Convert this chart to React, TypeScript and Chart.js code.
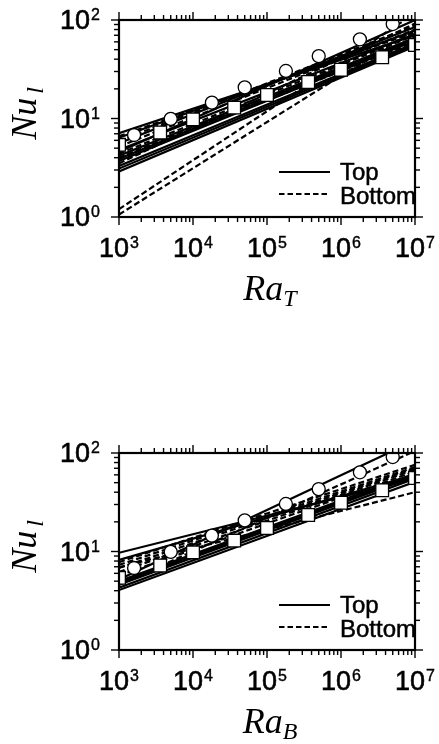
import React, { useEffect, useRef } from 'react';
import { Chart, registerables } from 'chart.js';
Chart.register(...registerables);

// ---- axes / ticks ----
const xDecades = [3, 4, 5, 6, 7];
const yDecades = [0, 1, 2];
const xRange = [1e3, 1e7];
const yRange = [1, 100];
const fitRa = [1e3, 1e7];
const legendLabels = ['Top', 'Bottom'];

// ---- symbols (same in both panels) ----
const circleRa = [1.6e3, 5e3, 1.8e4, 5e4, 1.8e5, 5e5, 1.8e6, 5e6];
const circleNu = [6.8, 9.9, 14.5, 20.7, 30.4, 43, 63.7, 91];
const squareRa = [1e3, 3.6e3, 1e4, 3.6e4, 1e5, 3.6e5, 1e6, 3.6e6, 1e7];
const squareNu = [5.4, 7.2, 9.8, 12.9, 17.3, 23.5, 31.3, 41.8, 55.7];

// ---- panel 1 (Ra_T) fitted lines: Nu at Ra=1e3 and at Ra=1e7 ----
const p1TopStart = [7.1, 6.4, 5.6, 4.6, 4.8, 4.2, 3.9, 3.7, 3.3, 3.1, 2.9];
const p1TopEnd = [70, 78, 85, 100, 72, 66, 64, 62, 58, 56, 54];
const p1BotStart = [6.6, 5.9, 5.2, 4.4, 4.0, 3.9, 3.5, 1.2, 1.06];
const p1BotEnd = [75, 88, 80, 70, 66, 60, 92, 117, 80];

// ---- panel 2 (Ra_B) fitted lines ----
const p2TopStart = [9.7, 8.2, 5.2, 5.0, 4.8, 4.6, 4.3, 4.06];
const p2TopEnd = [55, 60, 134, 62, 60, 58, 55, 51];
const p2BotStart = [4.6, 7.8, 7.3, 6.8, 6.2, 5.7, 6.9];
const p2BotEnd = [105, 76, 72, 70, 68, 65, 40];

const SANS = '"Liberation Sans", Arial, sans-serif';
const SERIF = '"Liberation Serif", "Times New Roman", serif';

function boldText(ctx: CanvasRenderingContext2D, s: string, x: number, y: number, w = 0.5) {
  ctx.fillText(s, x, y);
  ctx.lineWidth = w;
  ctx.setLineDash([]);
  ctx.strokeText(s, x, y);
}

function drawPow(ctx: CanvasRenderingContext2D, exp: number, cx: number, baseY: number, align: 'center' | 'right') {
  ctx.font = `27px ${SANS}`;
  const w1 = ctx.measureText('10').width;
  ctx.font = `16px ${SANS}`;
  const w2 = ctx.measureText(String(exp)).width;
  const total = w1 + w2 + 1;
  const x0 = align === 'center' ? cx - total / 2 : cx - total;
  ctx.textAlign = 'left';
  ctx.textBaseline = 'alphabetic';
  ctx.font = `27px ${SANS}`;
  boldText(ctx, '10', x0, baseY, 0.6);
  ctx.font = `16px ${SANS}`;
  boldText(ctx, String(exp), x0 + w1 + 1, baseY - 9, 0.4);
}

const framePlugin = {
  id: 'frame',
  afterDatasetsDraw(chart: any, _args: any, opts: any) {
    const { ctx, chartArea: a, scales } = chart;
    const x = scales.x;
    const y = scales.y;
    ctx.save();
    ctx.strokeStyle = '#000';
    ctx.fillStyle = '#000';
    ctx.lineWidth = 2.2;
    ctx.strokeRect(a.left, a.top, a.right - a.left, a.bottom - a.top);
    const seg = (x1: number, y1: number, x2: number, y2: number) => {
      ctx.beginPath();
      ctx.moveTo(x1, y1);
      ctx.lineTo(x2, y2);
      ctx.stroke();
    };
    ctx.lineWidth = 1.4;
    // x ticks
    for (let i = 0; i < xDecades.length; i++) {
      const e = xDecades[i];
      for (let m = 1; m <= 9; m++) {
        if (i === xDecades.length - 1 && m > 1) break;
        const px = x.getPixelForValue(m * Math.pow(10, e));
        const len = m === 1 ? 8 : 5;
        seg(px, a.bottom, px, a.bottom + len);
        seg(px, a.top, px, a.top - len);
      }
    }
    for (let i = 0; i < yDecades.length; i++) {
      const e = yDecades[i];
      for (let m = 1; m <= 9; m++) {
        if (i === yDecades.length - 1 && m > 1) break;
        const py = y.getPixelForValue(m * Math.pow(10, e));
        const len = m === 1 ? 8 : 5;
        seg(a.left, py, a.left - len, py);
        seg(a.right, py, a.right + len, py);
      }
    }
    // tick labels
    for (const e of xDecades) {
      drawPow(ctx, e, x.getPixelForValue(Math.pow(10, e)), a.bottom + 40, 'center');
    }
    for (const e of yDecades) {
      drawPow(ctx, e, a.left - 19, y.getPixelForValue(Math.pow(10, e)) + 9, 'right');
    }
    // x title
    ctx.textAlign = 'left';
    ctx.font = `italic 36px ${SERIF}`;
    const wRa = ctx.measureText('Ra').width;
    ctx.font = `italic 24px ${SERIF}`;
    const wSub = ctx.measureText(opts.sub).width;
    const cx = (a.left + a.right) / 2 + 3;
    const sx = cx - (wRa + wSub) / 2;
    const by = a.bottom + 83;
    ctx.font = `italic 36px ${SERIF}`;
    ctx.fillText('Ra', sx, by);
    ctx.font = `italic 24px ${SERIF}`;
    ctx.fillText(opts.sub, sx + wRa, by + 6);
    // y title
    ctx.save();
    ctx.translate(36, (a.top + a.bottom) / 2 - 5);
    ctx.rotate(-Math.PI / 2);
    ctx.font = `italic 36px ${SERIF}`;
    const wNu = ctx.measureText('Nu').width;
    ctx.font = `italic 24px ${SERIF}`;
    const wl = ctx.measureText('l').width;
    const st = -(wNu + wl + 4) / 2;
    ctx.font = `italic 36px ${SERIF}`;
    ctx.fillText('Nu', st, 0);
    ctx.font = `italic 24px ${SERIF}`;
    ctx.fillText('l', st + wNu + 4, 7);
    ctx.restore();
    // legend
    ctx.lineWidth = 2;
    ctx.setLineDash([]);
    seg(279, a.top + 152, 330, a.top + 152);
    ctx.setLineDash([5.5, 3]);
    seg(279, a.top + 174, 330, a.top + 174);
    ctx.setLineDash([]);
    ctx.font = `24px ${SANS}`;
    boldText(ctx, legendLabels[0], 340, a.top + 160, 0.5);
    boldText(ctx, legendLabels[1], 340, a.top + 184, 0.5);
    ctx.restore();
  },
};

function fitLines(starts: number[], ends: number[], dashed: boolean) {
  return starts.map((s, i) => ({
    data: [
      { x: fitRa[0], y: s },
      { x: fitRa[1], y: ends[i] },
    ],
    showLine: true,
    borderColor: '#000',
    borderWidth: 2.2,
    borderDash: dashed ? [6, 3] : [],
    pointRadius: 0,
    clip: 0,
    order: 2,
  }));
}

function markers() {
  return [
    {
      data: circleRa.map((r, i) => ({ x: r, y: circleNu[i] })),
      pointStyle: 'circle',
      pointRadius: 6.5,
      pointBackgroundColor: '#fff',
      pointBorderColor: '#000',
      pointBorderWidth: 1.3,
      showLine: false,
      clip: 0,
      order: 0,
    },
    {
      data: squareRa.map((r, i) => ({ x: r, y: squareNu[i] })),
      pointStyle: 'rect',
      pointRadius: 9,
      pointBackgroundColor: '#fff',
      pointBorderColor: '#000',
      pointBorderWidth: 1.3,
      showLine: false,
      clip: 0,
      order: 0,
    },
  ];
}

function Panel(props: {
  top: number;
  padTop: number;
  padBottom: number;
  sub: string;
  solidStart: number[];
  solidEnd: number[];
  dashStart: number[];
  dashEnd: number[];
}) {
  const ref = useRef<HTMLCanvasElement>(null);
  useEffect(() => {
    if (!ref.current) return;
    const chart = new Chart(ref.current, {
      type: 'scatter',
      data: {
        datasets: [
          ...markers(),
          ...fitLines(props.solidStart, props.solidEnd, false),
          ...fitLines(props.dashStart, props.dashEnd, true),
        ] as any,
      },
      options: {
        animation: false,
        responsive: false,
        devicePixelRatio: 1,
        events: [],
        layout: { padding: { left: 119, right: 24, top: props.padTop, bottom: props.padBottom } },
        plugins: {
          legend: { display: false },
          tooltip: { enabled: false },
          frame: { sub: props.sub },
        } as any,
        scales: {
          x: { type: 'logarithmic', min: xRange[0], max: xRange[1], display: false },
          y: { type: 'logarithmic', min: yRange[0], max: yRange[1], display: false },
        },
      },
      plugins: [framePlugin],
    });
    return () => chart.destroy();
  }, []);
  return (
    <canvas
      ref={ref}
      width={439}
      height={372}
      style={{ position: 'absolute', left: 0, top: props.top, width: 439, height: 372 }}
    />
  );
}

export default function App() {
  return (
    <div style={{ position: 'absolute', left: 0, top: 0, width: 439, height: 744, background: '#fff' }}>
      <Panel top={0} padTop={20} padBottom={155} sub="T"
        solidStart={p1TopStart} solidEnd={p1TopEnd} dashStart={p1BotStart} dashEnd={p1BotEnd} />
      <Panel top={372} padTop={81} padBottom={94} sub="B"
        solidStart={p2TopStart} solidEnd={p2TopEnd} dashStart={p2BotStart} dashEnd={p2BotEnd} />
    </div>
  );
}
